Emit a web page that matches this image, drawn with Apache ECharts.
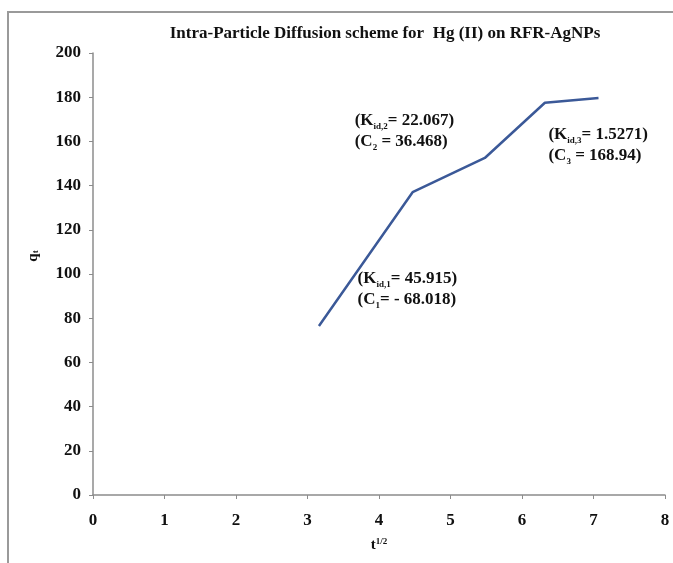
<!DOCTYPE html>
<html>
<head>
<meta charset="utf-8">
<script src="https://cdn.jsdelivr.net/npm/echarts@6/dist/echarts.min.js"></script>
<style>
  html, body { margin: 0; padding: 0; background: #fff; }
  #chart { width: 673px; height: 563px; }
</style>
</head>
<body>
<div id="chart"></div>
<script>
// Square root of contact time (t^1/2) and uptake q_t
const sqrtTime = [3.16, 4.47, 5.48, 6.32, 7.07];
const uptake = [76.5, 137, 152.5, 177.5, 179.6];

// Axis ticks
const xTicks = [0, 1, 2, 3, 4, 5, 6, 7, 8];
const yTicks = [0, 20, 40, 60, 80, 100, 120, 140, 160, 180, 200];

// Fitted stage parameters and where their notes sit (in data units)
const stageNames = ['1', '2', '3'];
const stageK = ['45.915', '22.067', '1.5271'];
const stageC = ['- 68.018', '36.468', '168.94'];
const stageKSep = ['= ', '= ', '= '];
const stageCSep = ['= ', ' = ', ' = '];
const noteX = [3.7, 3.66, 6.37];
const noteY = [102.5, 174, 168];

const serif = '"Liberation Serif", "DejaVu Serif", serif';
const textCol = '#111111';
const axisCol = '#8c8c8c';

const notes = stageNames.map((n, i) => ({
  value: [noteX[i], noteY[i]],
  label: {
    formatter: '{b|(K}{s|id,' + n + '}{b|' + stageKSep[i] + stageK[i] + ')}\n' +
               '{b|(C}{s|' + n + '}{b|' + stageCSep[i] + stageC[i] + ')}'
  }
}));

const chart = echarts.init(document.getElementById('chart'), null, { renderer: 'canvas' });
chart.setOption({
  backgroundColor: '#ffffff',
  animation: false,
  title: {
    text: 'Intra-Particle Diffusion scheme for  Hg (II) on RFR-AgNPs',
    left: 380, top: 20, textAlign: 'center',
    textStyle: { fontFamily: serif, fontWeight: 'bold', fontSize: 17, color: textCol }
  },
  graphic: [
    {
      type: 'polyline',
      shape: { points: [[8, 600], [8, 12], [700, 12]] },
      style: { stroke: '#9a9a9a', lineWidth: 2, fill: null }
    },
    {
      // y-axis title q_t, rotated
      type: 'text',
      x: 33, y: 256, rotation: Math.PI / 2,
      style: {
        text: '{b|q}{s|t}', align: 'center', verticalAlign: 'middle',
        rich: {
          b: { fontFamily: serif, fontWeight: 'bold', fontSize: 15, fill: textCol },
          s: { fontFamily: serif, fontWeight: 'bold', fontSize: 9, fill: textCol, verticalAlign: 'bottom', padding: [6, 0, 0, 0] }
        }
      }
    }
  ],
  grid: { left: 93, right: 8, top: 53, bottom: 68, containLabel: false },
  xAxis: {
    type: 'value', min: xTicks[0], max: xTicks[xTicks.length - 1], interval: 1,
    name: '{b|t}{p|1/2}', nameLocation: 'middle', nameGap: 42,
    nameTextStyle: {
      rich: {
        b: { fontFamily: serif, fontWeight: 'bold', fontSize: 15, color: textCol },
        p: { fontFamily: serif, fontWeight: 'bold', fontSize: 9, color: textCol, verticalAlign: 'top', padding: [0, 0, 7, 0] }
      }
    },
    axisLine: { lineStyle: { color: axisCol, width: 1.5 } },
    axisTick: { show: true, length: 4, lineStyle: { color: axisCol } },
    splitLine: { show: false },
    axisLabel: { fontFamily: serif, fontWeight: 'bold', fontSize: 17, color: textCol, margin: 17 }
  },
  yAxis: {
    type: 'value', min: yTicks[0], max: yTicks[yTicks.length - 1], interval: 20,
    axisLine: { show: true, lineStyle: { color: axisCol, width: 1.5 } },
    axisTick: { show: true, length: 4, lineStyle: { color: axisCol } },
    splitLine: { show: false },
    axisLabel: { fontFamily: serif, fontWeight: 'bold', fontSize: 17, color: textCol, margin: 12 }
  },
  series: [
    {
      type: 'line',
      data: sqrtTime.map((x, i) => [x, uptake[i]]),
      showSymbol: false,
      lineStyle: { color: '#3b5998', width: 2.5 },
      z: 3
    },
    {
      type: 'scatter',
      symbolSize: 0,
      data: notes,
      silent: true,
      label: {
        show: true, position: [0, 0], align: 'left', verticalAlign: 'top',
        color: textCol, textBorderWidth: 0, opacity: 1,
        lineHeight: 21,
        rich: {
          b: { fontFamily: serif, fontWeight: 'bold', fontSize: 17, color: textCol, textBorderWidth: 0, lineHeight: 21 },
          s: { fontFamily: serif, fontWeight: 'bold', fontSize: 9, color: textCol, textBorderWidth: 0, verticalAlign: 'bottom', lineHeight: 21, padding: [9, 0, 0, 0] }
        }
      },
      z: 4
    }
  ]
});
</script>
</body>
</html>
